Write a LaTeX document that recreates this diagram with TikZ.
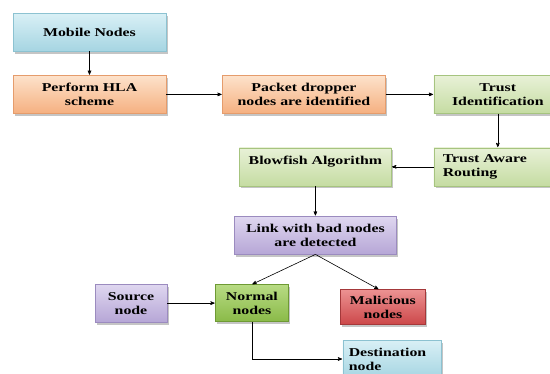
\documentclass[tikz,border=0pt]{standalone}
\usepackage{fontspec}
\newfontfamily\boxfont{Liberation Serif}[FakeStretch=1.32]
\usepackage{tikz}
\usetikzlibrary{arrows,positioning,shadows}
\definecolor{cyanTop}{HTML}{D9F0F6}
\definecolor{cyanBot}{HTML}{A6D5E2}
\definecolor{cyanLine}{HTML}{8CC2D1}
\definecolor{orTop}{HTML}{FDE2CB}
\definecolor{orBot}{HTML}{F5B080}
\definecolor{orLine}{HTML}{E59C6C}
\definecolor{grTop}{HTML}{E8F1D7}
\definecolor{grBot}{HTML}{C5DCA2}
\definecolor{grLine}{HTML}{A6C47F}
\definecolor{puTop}{HTML}{DFD7F0}
\definecolor{puBot}{HTML}{B6A6D6}
\definecolor{puLine}{HTML}{9B8BBF}
\definecolor{nmTop}{HTML}{B8DB84}
\definecolor{nmBot}{HTML}{8ABA48}
\definecolor{nmLine}{HTML}{6E9A34}
\definecolor{rdTop}{HTML}{EC9292}
\definecolor{rdBot}{HTML}{CC4749}
\definecolor{rdLine}{HTML}{A4383A}

\begin{document}
\begin{tikzpicture}[->,>=stealth',shorten >=0.5pt,node distance=30pt,
		semithick]
		\tikzstyle{blk}=[rectangle,draw,thin,align=center,inner sep=2pt,
		minimum height=38pt,font=\boxfont\bfseries\fontsize{12}{14}\selectfont,
		drop shadow={shadow xshift=2pt,shadow yshift=-2.5pt,fill=black!45}]
		\tikzstyle{cyanblk}=[blk,top color=cyanTop,bottom color=cyanBot,draw=cyanLine]
		\tikzstyle{orblk}=[blk,top color=orTop,bottom color=orBot,draw=orLine]
		\tikzstyle{grblk}=[blk,top color=grTop,bottom color=grBot,draw=grLine]
		\tikzstyle{publk}=[blk,top color=puTop,bottom color=puBot,draw=puLine]
		\tikzstyle{nmblk}=[blk,top color=nmTop,bottom color=nmBot,draw=nmLine]
		\tikzstyle{rdblk}=[blk,top color=rdTop,bottom color=rdBot,draw=rdLine]
		
		\useasboundingbox (0,0) rectangle (550pt,-373pt);
		
		\node[cyanblk,minimum width=153pt] (mob) at (89.5pt,-32pt) {Mobile Nodes};
		\node[orblk,minimum width=153pt] (hla) [below=24pt of mob] {Perform HLA\\scheme};
		\node[orblk,minimum width=163pt] (pkt) [right=56pt of hla] {Packet dropper\\nodes are identified};
		\node[grblk,minimum width=128pt] (tid) [right=48pt of pkt] {Trust\\Identification};
		\node[grblk,minimum width=128pt,align=left,text width=110pt] (tar) [below=34pt of tid] {Trust Aware\\Routing};
		\node[grblk,minimum width=152pt] (blow) [left=42pt of tar] {Blowfish Algorithm\\\mbox{}};
		\node[publk,minimum width=162pt] (link) [below=30pt of blow] {Link with bad nodes\\are detected};
		\node[nmblk,minimum width=73pt,minimum height=37pt] (norm) [below=30pt of link,xshift=-63.5pt] {Normal\\nodes};
		\node[rdblk,minimum width=85pt,minimum height=35pt] (mal) [below=35pt of link,xshift=67.5pt] {Malicious\\nodes};
		\node[publk,minimum width=72pt] (src) [left=48pt of norm] {Source\\node};
		\node[cyanblk,minimum width=98pt,minimum height=38pt,align=left,text width=86pt,
			anchor=north west] (dst) at ([xshift=54pt,yshift=-18pt]norm.south east) {Destination\\node};
		
		\path[->]
		(mob) edge (hla)
		(hla) edge (pkt)
		(pkt) edge (tid)
		(tid) edge (tar)
		(tar) edge (blow)
		(blow) edge (link)
		(link.south) edge (norm.north)
		(link.south) edge ([xshift=-4pt]mal.north)
		(src) edge (norm);
		\draw[->] (norm.south) |- (dst.west);
		\end{tikzpicture}
\end{document}
